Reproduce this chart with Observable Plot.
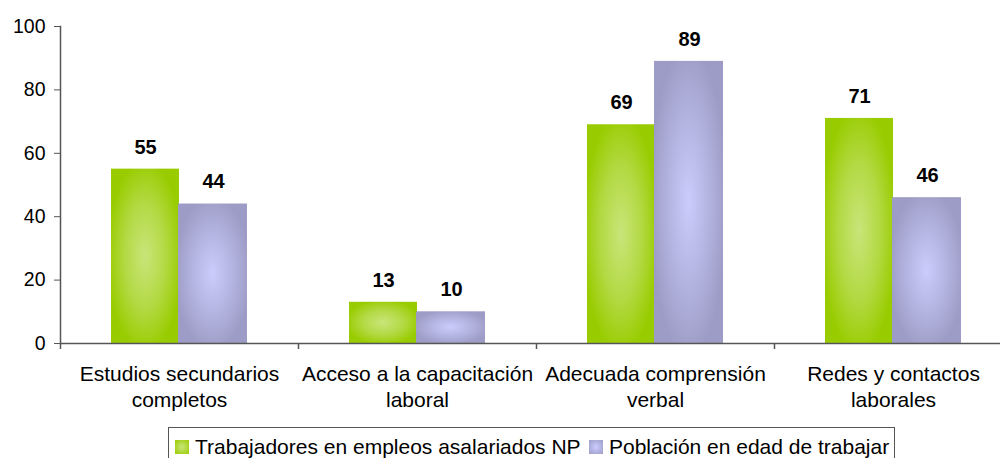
<!DOCTYPE html>
<html>
<head>
<meta charset="utf-8">
<script src="https://cdn.jsdelivr.net/npm/d3@7"></script>
<script src="https://cdn.jsdelivr.net/npm/@observablehq/plot@0.6"></script>
<style>
  html, body { margin: 0; padding: 0; background: #fff; overflow: hidden; }
  body { width: 1000px; height: 458px; position: relative; font-family: "Liberation Sans", Arial, sans-serif; }
  #legend { position: absolute; left: 168px; top: 427px; width: 727px; height: 40px; border: 1px solid #555; box-sizing: border-box; font-size: 21px; color: #000; }
  .item { position: absolute; top: 7px; display: flex; align-items: center; white-space: nowrap; }
  .sw { width: 14px; height: 14px; margin-right: 6px; }
</style>
</head>
<body>
<div id="chart"></div>
<div id="legend">
  <div class="item" style="left:6px"><div class="sw" style="background: radial-gradient(#c8e57a, #99cc00);"></div><span id="l0"></span></div>
  <div class="item" style="left:420px"><div class="sw" style="background: radial-gradient(#ccccff, #9c9cc6);"></div><span id="l1"></span></div>
</div>
<script>
const categories = [
  "Estudios secundarios completos",
  "Acceso a la capacitación laboral",
  "Adecuada comprensión verbal",
  "Redes y contactos laborales"
];
const categoryLabels = [
  "Estudios secundarios\ncompletos",
  "Acceso a la capacitación\nlaboral",
  "Adecuada comprensión\nverbal",
  "Redes y contactos\nlaborales"
];
const seriesNames = ["Trabajadores en empleos asalariados NP", "Población en edad de trabajar"];
const trabajadores = [55, 13, 69, 71];
const poblacion = [44, 10, 89, 46];
const yTicks = [0, 20, 40, 60, 80, 100];

document.getElementById("l0").textContent = seriesNames[0];
document.getElementById("l1").textContent = seriesNames[1];

const dataA = categories.map((c, i) => ({cat: c, value: trabajadores[i]}));
const dataB = categories.map((c, i) => ({cat: c, value: poblacion[i]}));
const labelOf = new Map(categories.map((c, i) => [c, categoryLabels[i]]));

const chart = Plot.plot({
  width: 1000,
  height: 427,
  marginTop: 26,
  marginBottom: 84,
  marginLeft: 60,
  marginRight: 0,
  style: {fontFamily: "'Liberation Sans', Arial, sans-serif", background: "#fff", overflow: "visible"},
  x: {type: "band", domain: categories, range: [60, 1012], padding: 0, label: null},
  y: {domain: [0, 100], range: [343, 26], label: null},
  marks: [
    Plot.barY(dataA, {x: "cat", y: "value", fill: "url(#gGreen)", insetLeft: 51, insetRight: 119}),
    Plot.barY(dataB, {x: "cat", y: "value", fill: "url(#gPurple)", insetLeft: 118, insetRight: 51}),
    Plot.text(dataA, {x: "cat", y: "value", text: d => String(d.value), dx: -34, dy: -22, fontSize: 20, fontWeight: "bold", fill: "#000"}),
    Plot.text(dataB, {x: "cat", y: "value", text: d => String(d.value), dx: 34, dy: -22, fontSize: 20, fontWeight: "bold", fill: "#000"}),
    Plot.ruleY([0], {stroke: "#555", strokeWidth: 1.5}),
    Plot.frame({anchor: "left", stroke: "#555", strokeWidth: 1.5}),
    Plot.ruleX(categories, {x: d => d, y1: 0, y2: 0, insetBottom: -6, dx: -119, stroke: "#555", strokeWidth: 1.5}),
    Plot.axisY({ticks: yTicks, tickSize: 6, tickPadding: 9, fontSize: 19.5, stroke: "#555", fill: "#000", tickFormat: d => String(d), label: null}),
    Plot.axisX({tickSize: 0, tickPadding: 19, fontSize: 21, lineHeight: 1.24, fill: "#000", tickFormat: d => labelOf.get(d), label: null})
  ]
});

const ns = "http://www.w3.org/2000/svg";
const defs = document.createElementNS(ns, "defs");
function grad(id, center, mid, edge) {
  const g = document.createElementNS(ns, "radialGradient");
  g.setAttribute("id", id);
  g.setAttribute("cx", "0.5"); g.setAttribute("cy", "0.5"); g.setAttribute("r", "0.55");
  [["0%", center], ["55%", mid], ["100%", edge]].forEach(([o, c]) => {
    const s = document.createElementNS(ns, "stop");
    s.setAttribute("offset", o); s.setAttribute("stop-color", c);
    g.appendChild(s);
  });
  defs.appendChild(g);
}
grad("gGreen", "#c8e57a", "#b3d943", "#99cc00");
grad("gPurple", "#ccccfc", "#b3b3e0", "#9c9cc6");
chart.insertBefore(defs, chart.firstChild);
document.getElementById("chart").appendChild(chart);
</script>
</body>
</html>
